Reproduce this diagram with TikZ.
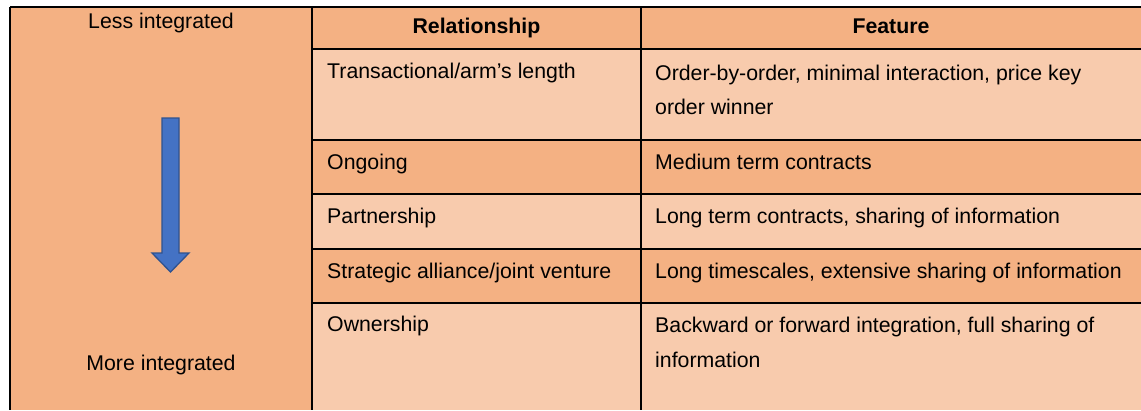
\documentclass[tikz,border=0pt]{standalone}
\usepackage{fontspec}
\setmainfont{Liberation Sans}
\usepackage{tikz}
\usetikzlibrary{positioning}

\definecolor{cellDark}{HTML}{F4B183}
\definecolor{cellLight}{HTML}{F8CBAD}
\definecolor{arrowBlue}{HTML}{4472C4}
\definecolor{arrowEdge}{HTML}{2F528F}

\begin{document}
\begin{tikzpicture}[
        x=1pt, y=-1pt,
        every node/.style={inner sep=0pt, font=\fontsize{21.3}{34}\selectfont, text=black},
        txt/.style={anchor=base west},
        head/.style={anchor=base, font=\fontsize{21.3}{34}\selectfont\bfseries},
        rule/.style={line width=1.3pt, black}
    ]
  \useasboundingbox (0,0) rectangle (1141,410);

  % Cells
  \fill[cellDark] (10,7) rectangle (312,410);
  \fill[cellDark] (312,7) rectangle (1141,49);
  \fill[cellLight] (312,49) rectangle (1141,140);
  \fill[cellDark] (312,140) rectangle (1141,194);
  \fill[cellLight] (312,194) rectangle (1141,249);
  \fill[cellDark] (312,249) rectangle (1141,303);
  \fill[cellLight] (312,303) rectangle (1141,410);

  % Rules
  \draw[rule] (10,7) -- (1141,7);
  \draw[rule] (10,7) -- (10,410);
  \draw[rule] (312,7) -- (312,410);
  \draw[rule] (641,7) -- (641,410);
  \foreach \y in {49,140,194,249,303}
    \draw[rule] (312,\y) -- (1141,\y);

  % Arrow
  \draw[fill=arrowBlue, draw=arrowEdge, line width=1.3pt, line join=miter]
    (162,118) -- (179,118) -- (179,253) -- (189,253) -- (170.5,272)
    -- (152,253) -- (162,253) -- cycle;

  % Nodes
  \node (less) [anchor=base] at (161,28) {Less integrated};
  \node (more) [anchor=base] at (161,370) {More integrated};

  \node (relhead) [head] at (476.5,33) {Relationship};
  \node (feathead) [head] at (891,33) {Feature};

  \node (trans) [txt] at (327,78) {Transactional/arm’s length};
  \node (ongoing) [txt] at (327,169) {Ongoing};
  \node (partner) [txt] at (327,223) {Partnership};
  \node (strategic) [txt] at (327,278) {Strategic alliance/joint venture};
  \node (owner) [txt] at (327,331) {Ownership};

  \node (transfa) [txt] at (655,80) {Order-by-order, minimal interaction, price key};
  \node (transfb) [txt] at (655,114) {order winner};
  \node (ongoingf) [txt] at (655,169) {Medium term contracts};
  \node (partnerf) [txt] at (655,223) {Long term contracts, sharing of information};
  \node (strategicf) [txt] at (655,278) {Long timescales, extensive sharing of information};
  \node (ownerfa) [txt] at (655,332) {Backward or forward integration, full sharing of};
  \node (ownerfb) [txt] at (655,367) {information};
\end{tikzpicture}
\end{document}
